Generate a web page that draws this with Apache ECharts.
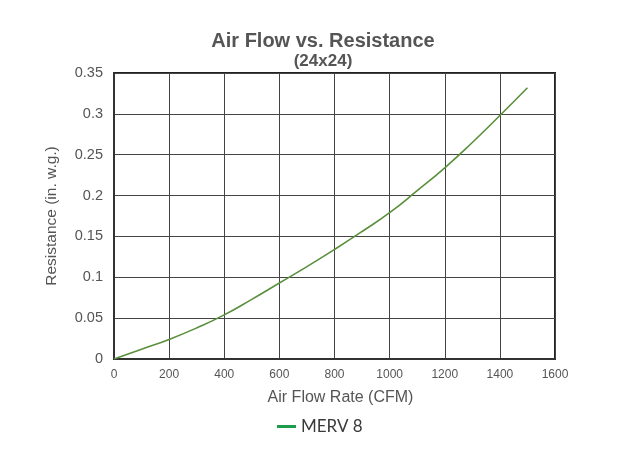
<!DOCTYPE html>
<html>
<head>
<meta charset="utf-8">
<script src="https://cdn.jsdelivr.net/npm/echarts@6/dist/echarts.min.js"></script>
<style>
  html, body { margin: 0; padding: 0; background: #fff; }
  #chart { width: 626px; height: 454px; }
</style>
</head>
<body>
<div id="chart"></div>
<script>
// air flow (CFM) and resistance (in. w.g.)
const flowRates = [0, 100, 200, 300, 400, 500, 600, 700, 800, 900, 1000, 1100, 1200, 1300, 1400, 1500];
const resistance = [0, 0.012, 0.024, 0.038, 0.054, 0.073, 0.093, 0.113, 0.134, 0.156, 0.179, 0.206, 0.234, 0.265, 0.298, 0.332];
const seriesName = 'MERV 8';

window.addEventListener('DOMContentLoaded', () => {
    const chart = echarts.init(document.getElementById('chart'));

    chart.setOption({
        animation: false,
        title: {
            text: 'Air Flow vs. Resistance',
            subtext: '(24x24)',
            left: 318,
            textAlign: 'center',
            top: 26,
            itemGap: 2,
            textStyle: {
                fontFamily: 'Liberation Sans',
                fontSize: 20,
                fontWeight: 'bold',
                color: '#555'
            },
            subtextStyle: {
                fontFamily: 'Liberation Sans',
                fontSize: 17,
                fontWeight: 'bold',
                color: '#555'
            }
        },
        legend: {
            bottom: 14,
            left: 272,
            icon: 'rect',
            itemWidth: 19,
            itemHeight: 3,
            itemGap: 8,
            textStyle: {
                fontFamily: 'Lato',
                fontSize: 17,
                color: '#3a3a3a'
            },
            data: [{
                name: seriesName,
                itemStyle: { color: '#1f9c4b' }
            }]
        },
        grid: {
            left: 114,
            right: 71,
            top: 73,
            bottom: 95,
            show: true,
            borderColor: '#222',
            borderWidth: 2
        },
        xAxis: {
            type: 'value',
            min: 0,
            max: 1600,
            interval: 200,
            name: 'Air Flow Rate (CFM)',
            nameLocation: 'middle',
            nameGap: 31,
            nameTextStyle: {
                fontFamily: 'Liberation Sans',
                fontSize: 16,
                color: '#555',
                padding: [0, 0, 0, 12]
            },
            axisLine: { lineStyle: { color: '#333', width: 2 } },
            axisTick: { show: false },
            axisLabel: {
                fontFamily: 'Liberation Sans',
                fontSize: 12,
                color: '#555',
                margin: 10,
                formatter: v => String(v)
            },
            splitLine: { lineStyle: { color: '#444', width: 1 } }
        },
        yAxis: {
            type: 'value',
            min: 0,
            max: 0.35,
            interval: 0.05,
            name: 'Resistance (in. w.g.)',
            nameLocation: 'middle',
            nameGap: 54,
            nameTextStyle: {
                fontFamily: 'Liberation Sans',
                fontSize: 15.5,
                color: '#555'
            },
            axisLine: { show: true, lineStyle: { color: '#333', width: 2 } },
            axisTick: { show: false },
            axisLabel: {
                fontFamily: 'Liberation Sans',
                fontSize: 14.5,
                color: '#555',
                margin: 11
            },
            splitLine: { lineStyle: { color: '#444', width: 1 } }
        },
        series: [{
            name: seriesName,
            type: 'line',
            smooth: true,
            showSymbol: false,
            lineStyle: { color: '#5a8f3c', width: 1.6 },
            itemStyle: { color: '#5a8f3c' },
            data: flowRates.map((x, i) => [x, resistance[i]])
        }]
    });
});
</script>
</body>
</html>
